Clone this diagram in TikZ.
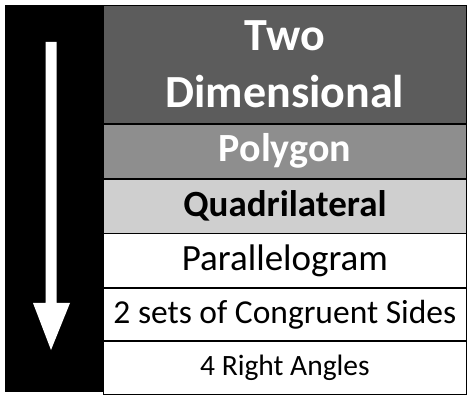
\documentclass[tikz,border=0pt]{standalone}
\usepackage{fontspec}
\setmainfont{Carlito}
\definecolor{rowA}{HTML}{5C5C5C}
\definecolor{rowB}{HTML}{8E8E8E}
\definecolor{rowC}{HTML}{CFCFCF}
\begin{document}
\begin{tikzpicture}[x=1pt,y=1pt,
  rowbox/.style={draw=black,line width=0.8pt,minimum width=363pt,inner sep=0pt,anchor=north west,align=center},
]
\useasboundingbox (0,0) rectangle (468,396);
\fill[white] (0,0) rectangle (468,396);
% black band
\fill[black] (5,4) rectangle (103,391);
% rows
\node[rowbox,fill=rowA,minimum height=118pt,text=white,font=\bfseries\fontsize{46}{57}\selectfont] (r1) at (103,391) {Two\\Dimensional};
\node[rowbox,fill=rowB,minimum height=54pt,text=white,font=\bfseries\fontsize{40}{48}\selectfont] (r2) at (r1.south west) {Polygon};
\node[rowbox,fill=rowC,minimum height=54pt,font=\bfseries\fontsize{37}{42}\selectfont] (r3) at (r2.south west) {Quadrilateral};
\node[rowbox,fill=white,minimum height=54pt,font=\fontsize{37}{42}\selectfont] (r4) at (r3.south west) {\textbf{}Parallelogram};
\node[rowbox,fill=white,minimum height=52pt,font=\fontsize{33.5}{38}\selectfont] (r5) at (r4.south west) {2 sets of Congruent Sides};
\node[rowbox,fill=white,minimum height=53pt,font=\fontsize{29.5}{34}\selectfont] (r6) at (r5.south west) {4 Right Angles};
% arrow
\fill[white] (45.5,354) -- (56.5,354) -- (56.5,93) -- (70,93) -- (51,46) -- (33,93) -- (45.5,93) -- cycle;
\end{tikzpicture}
\end{document}
